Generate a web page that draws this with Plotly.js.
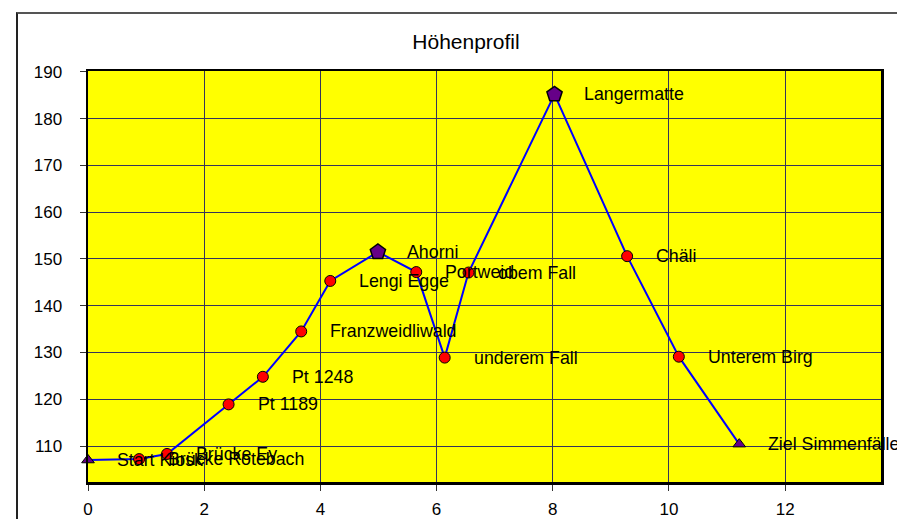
<!DOCTYPE html>
<html><head><meta charset="utf-8">
<script src="https://cdn.plot.ly/plotly-3.0.1.min.js"></script>
<style>
html,body{margin:0;padding:0;background:#fff;overflow:hidden;}
#frame{position:absolute;left:16px;top:12px;width:1000px;height:600px;border-left:2px solid #222;border-top:2px solid #555;}
#chart{position:absolute;left:0;top:0;width:897px;height:519px;}
</style></head><body>
<div id="frame"></div>
<div id="chart"></div>
<script>
// Stations along the route
const stationNames = ['Start Kiosk','Brücke Rotebach','Brücke Ey','Pt 1189','Pt 1248','Franzweidliwald','Lengi Egge','Ahorni','Portweid','underem Fall','obem Fall','Langermatte','Chäli','Unterem Birg','Ziel Simmenfälle'];
const distance     = [0, 0.88, 1.36, 2.42, 3.01, 3.67, 4.17, 4.99, 5.65, 6.14, 6.55, 8.03, 9.28, 10.17, 11.21];
const altitude     = [107.0, 107.2, 108.3, 118.9, 124.8, 134.5, 145.3, 151.5, 147.2, 128.9, 147.1, 185.2, 150.6, 129.1, 110.4];
const pointKind    = ['end','stop','stop','stop','stop','stop','stop','summit','stop','stop','stop','summit','stop','stop','end'];
const xTicks = [0, 2, 4, 6, 8, 10, 12];
const yTicks = [110, 120, 130, 140, 150, 160, 170, 180, 190];
const chartTitle = 'Höhenprofil';

const FONT = 'Liberation Sans, Arial, sans-serif';
function pick(kind, arr){ return arr.filter((v,i)=>pointKind[i]===kind); }

const traces = [
  {x: distance, y: altitude, mode:'lines', line:{color:'#0000FF', width:2}, hoverinfo:'skip'},
  {x: pick('stop', distance), y: pick('stop', altitude), mode:'markers', cliponaxis:false,
   marker:{symbol:'circle', size:11, color:'#FF0000', line:{color:'#000', width:1}}},
  {x: pick('end', distance), y: pick('end', altitude), mode:'markers', cliponaxis:false,
   marker:{symbol:'triangle-up', size:11, color:'#660088', line:{color:'#000', width:1}}},
  {x: pick('summit', distance), y: pick('summit', altitude), mode:'markers', cliponaxis:false,
   marker:{symbol:'pentagon', size:16, color:'#660088', line:{color:'#000', width:1.5}}}
];

const annotations = stationNames.map((n,i)=>({
  x: distance[i], y: altitude[i], xref:'x', yref:'y', text:n, showarrow:false,
  xanchor:'left', yanchor:'middle', xshift:27, font:{family:FONT, size:17.8, color:'#000'}
}));

const layout = {
  width:897, height:519,
  margin:{l:88, r:16, t:71, b:37},
  paper_bgcolor:'rgba(0,0,0,0)', plot_bgcolor:'#FFFF00',
  showlegend:false,
  title:{text:chartTitle, font:{family:FONT, size:21, color:'#000'}, xref:'container', x:466/897, xanchor:'center', yref:'container', y:1-42/519, yanchor:'middle'},
  xaxis:{range:[0,13.65], tickvals:xTicks, ticktext:xTicks.map(String), showgrid:true, gridcolor:'#35355a', gridwidth:1,
    showline:true, mirror:true, linecolor:'#000', linewidth:2.5, ticks:'outside', ticklen:6, tickcolor:'#333',
    tickfont:{family:FONT, size:17, color:'#000'}, zeroline:false, ticklabelstandoff:4},
  yaxis:{range:[102.3,190.2], tickvals:yTicks, ticktext:yTicks.map(String), showgrid:true, gridcolor:'#35355a', gridwidth:1,
    showline:true, mirror:true, linecolor:'#000', linewidth:2.5, ticks:'outside', ticklen:6, tickcolor:'#333',
    tickfont:{family:FONT, size:17, color:'#000'}, zeroline:false, ticklabelstandoff:14},
  annotations: annotations
};
Plotly.newPlot('chart', traces, layout, {displayModeBar:false, staticPlot:true});
</script>
</body></html>
